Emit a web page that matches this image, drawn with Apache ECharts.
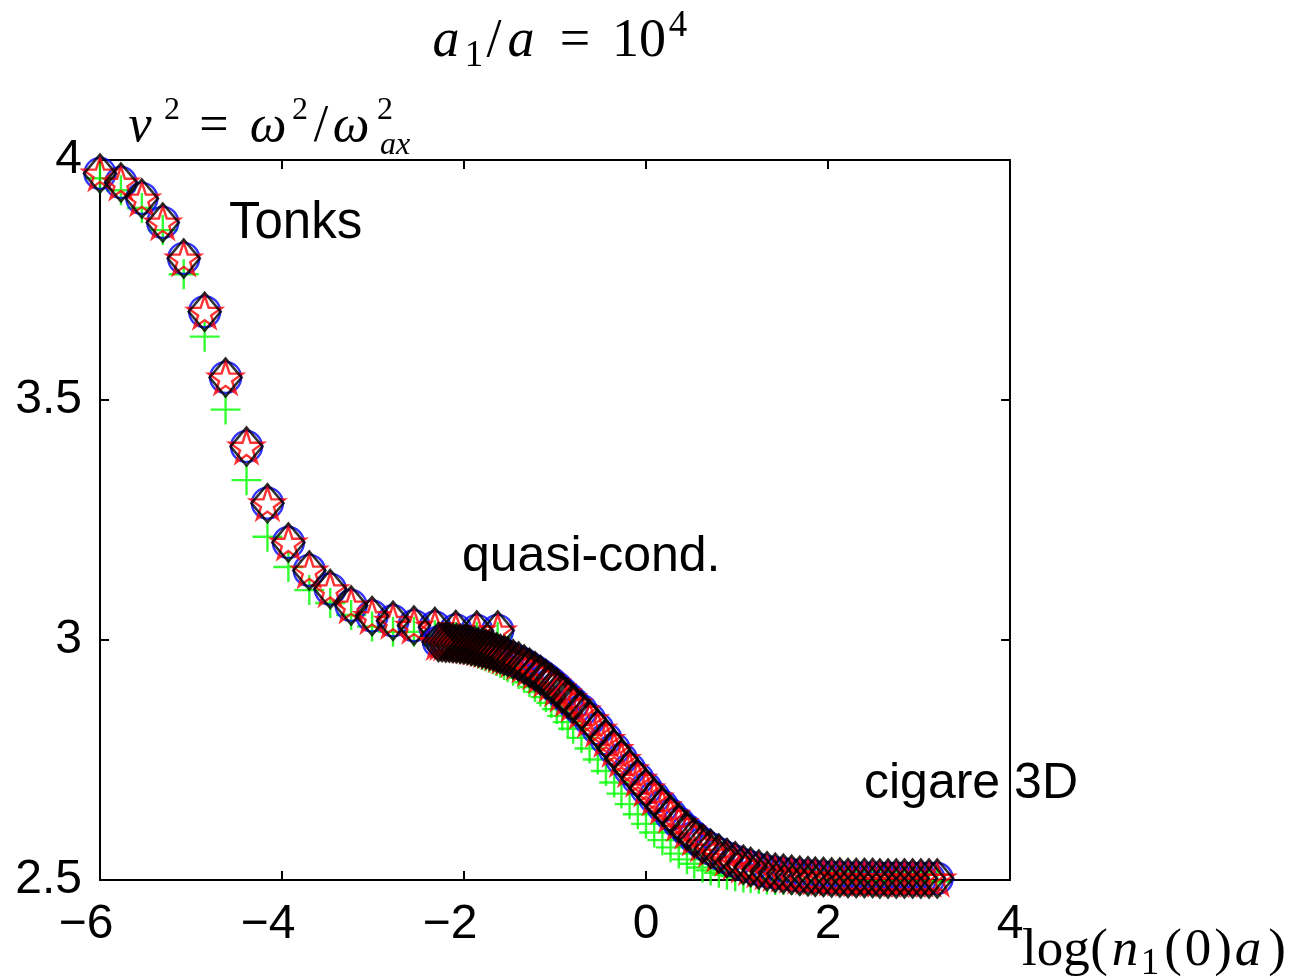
<!DOCTYPE html>
<html><head><meta charset="utf-8">
<script src="https://cdn.jsdelivr.net/npm/echarts@6/dist/echarts.min.js"></script>
<style>html,body{margin:0;padding:0;background:#fff}#c{width:1293px;height:980px}</style>
</head><body><div id="c"></div>
<script>
const xTicks = [-6, -4, -2, 0, 2, 4];
const xTickLabels = ['−6', '−4', '−2', '0', '2', '4'];
const yTicks = [2.5, 3, 3.5, 4];
const yTickLabels = ['2.5', '3', '3.5', '4'];

// sparse branch (Tonks side)
const sparseX = [-6.00, -5.77, -5.54, -5.31, -5.08, -4.85, -4.62, -4.39, -4.16, -3.93,
                 -3.70, -3.47, -3.24, -3.01, -2.78, -2.55, -2.32, -2.09, -1.86, -1.63];
const sparseY = [3.972, 3.953, 3.920, 3.870, 3.795, 3.684, 3.547, 3.403, 3.285, 3.203,
                 3.145, 3.106, 3.072, 3.050, 3.040, 3.030, 3.027, 3.021, 3.020, 3.020];
const sparseYPlus = [3.962, 3.937, 3.900, 3.854, 3.762, 3.632, 3.480, 3.333, 3.215, 3.152,
                     3.104, 3.077, 3.052, 3.028, 3.017, 3.017, 3.010, 3.006, 3.006, 3.006];

// dense branch (quasi-condensate -> 3D cigar)
const denseX = [-2.28, -2.24, -2.20, -2.16, -2.12, -2.08, -2.04, -2.00, -1.96, -1.92,
                -1.88, -1.84, -1.80, -1.76, -1.72, -1.68, -1.64, -1.60, -1.56, -1.52,
                -1.46, -1.40, -1.34, -1.28, -1.22, -1.16, -1.10, -1.04, -0.98, -0.92,
                -0.86, -0.80,
                -0.71, -0.62, -0.53, -0.44, -0.35, -0.27, -0.18, -0.09, 0.00, 0.09,
                0.18, 0.27, 0.36, 0.45, 0.53, 0.62, 0.71, 0.80, 0.89, 0.98,
                1.07, 1.15, 1.24, 1.33, 1.42, 1.51, 1.60, 1.69, 1.78, 1.86,
                1.95, 2.04, 2.13, 2.22, 2.31, 2.40, 2.49, 2.57, 2.66, 2.75,
                2.84, 2.93, 3.02, 3.11, 3.20];
const denseY = [2.996, 2.996, 2.995, 2.995, 2.994, 2.993, 2.992, 2.991, 2.990, 2.988,
                2.987, 2.985, 2.983, 2.981, 2.979, 2.977, 2.974, 2.971, 2.968, 2.965,
                2.960, 2.955, 2.949, 2.942, 2.935, 2.927, 2.919, 2.910, 2.900, 2.889,
                2.879, 2.868,
                2.853, 2.835, 2.815, 2.794, 2.773, 2.752, 2.731, 2.711, 2.691, 2.672,
                2.654, 2.636, 2.619, 2.603, 2.589, 2.576, 2.565, 2.555, 2.546, 2.539,
                2.532, 2.527, 2.522, 2.518, 2.515, 2.513, 2.511, 2.509, 2.508, 2.507,
                2.506, 2.505, 2.505, 2.504, 2.504, 2.504, 2.504, 2.503, 2.503, 2.503,
                2.503, 2.503, 2.503, 2.503, 2.503];
const denseYPlus = [2.990, 2.990, 2.988, 2.988, 2.986, 2.985, 2.983, 2.981, 2.980, 2.977,
                    2.975, 2.972, 2.969, 2.966, 2.963, 2.960, 2.956, 2.952, 2.948, 2.943,
                    2.936, 2.929, 2.921, 2.912, 2.902, 2.892, 2.881, 2.869, 2.856, 2.842,
                    2.829, 2.815,
                    2.796, 2.774, 2.751, 2.727, 2.703, 2.680, 2.658, 2.637, 2.617, 2.599,
                    2.583, 2.568, 2.555, 2.543, 2.534, 2.526, 2.520, 2.515, 2.511, 2.508,
                    2.505, 2.504, 2.502, 2.501, 2.500, 2.500, 2.500, 2.499, 2.499, 2.499,
                    2.498, 2.498, 2.498, 2.497, 2.497, 2.497, 2.497, 2.497, 2.497, 2.497,
                    2.497, 2.497, 2.497, 2.497, 2.497];

const STAR = 'path://M0,-1L0.2245,-0.309L0.951,-0.309L0.363,0.118L0.588,0.809L0,0.382L-0.588,0.809L-0.363,0.118L-0.951,-0.309L-0.2245,-0.309Z';
const PLUS = 'path://M0,-1L0,1M-1,0L1,0';

function pts(xs, ys) { return xs.map((x, i) => [x, ys[i]]); }
function mk(data, symbol, size, color, w) {
  return {
    type: 'scatter', data: data, symbol: symbol, symbolSize: size,
    clip: false, silent: true,
    itemStyle: { color: 'rgba(0,0,0,0)', borderColor: color, borderWidth: w }
  };
}
const series = [];
[[sparseX, sparseY, sparseYPlus], [denseX, denseY, denseYPlus]].forEach(s => {
  series.push(mk(pts(s[0], s[2]), PLUS, 30, '#00ff00', 2.4));
  series.push(mk(pts(s[0], s[1]), 'circle', 31, '#0000ff', 2.4));
  series.push(mk(pts(s[0], s[1]), STAR, [34, 32], '#ff0000', 2.4));
  series.push(mk(pts(s[0], s[1]), 'diamond', [32, 38], '#000000', 2.6));
});

const axisLineStyle = { color: '#000', width: 2 };
const tickStyle = { inside: true, length: 9, lineStyle: { color: '#000', width: 2 } };

function xLab(v) {
  const i = xTicks.findIndex(t => Math.abs(t - v) < 1e-9);
  const s = i >= 0 ? xTickLabels[i] : String(v);
  return s.charAt(0) === '−' ? '{n|' + s + '}{h|−}' : '{n|' + s + '}';
}
function yLab(v) {
  const i = yTicks.findIndex(t => Math.abs(t - v) < 1e-9);
  return i >= 0 ? yTickLabels[i] : String(v);
}

function T(text, x, y, size, italic, fam, align) {
  return {
    type: 'text', x: x, y: y, z: 100, silent: true,
    style: {
      text: text, fill: '#000', fontSize: size,
      fontFamily: fam || '"Liberation Serif", serif',
      fontStyle: italic ? 'italic' : 'normal',
      align: align || 'center', verticalAlign: 'middle'
    }
  };
}
const SANS = '"Liberation Sans", Arial, sans-serif';
const graphics = [
  // title a_1/a = 10^4
  T('a', 446, 42, 54, true), T('1', 474, 56, 37, false), T('/', 494, 42, 54, false),
  T('a', 521, 42, 54, true), T('=', 575, 42, 54, false), T('10', 639, 42, 54, false),
  T('4', 678, 26, 37, false),
  // y label nu^2 = omega^2/omega_ax^2
  T('ν', 140, 127, 52, true), T('2', 172, 111, 32, false), T('=', 214, 127, 52, false),
  T('ω', 268, 127, 52, true), T('2', 300, 111, 32, false), T('/', 321, 127, 52, false),
  T('ω', 351, 127, 52, true), T('2', 385, 111, 32, false), T('ax', 395, 146, 32, true),
  // x label log(n_1(0)a)
  T('log', 1022, 951, 53, false, null, 'left'), T('(', 1099, 951, 53, false), T('n', 1125, 951, 53, true),
  T('1', 1150, 964, 37, false), T('(', 1173, 951, 53, false), T('0', 1198, 951, 53, false),
  T(')', 1223, 951, 53, false), T('a', 1248, 951, 53, true), T(')', 1277, 951, 53, false),
  // annotations
  T('Tonks', 229, 224, 51, false, SANS, 'left'),
  T('quasi-cond.', 462, 557, 50, false, SANS, 'left'),
  T('cigare 3D', 864, 784, 50, false, SANS, 'left')
];

const chart = echarts.init(document.getElementById('c'), null, { renderer: 'canvas' });
chart.setOption({
  animation: false,
  backgroundColor: '#fff',
  grid: { left: 100, right: 283, top: 160, bottom: 100, containLabel: false },
  xAxis: [{
    type: 'value', min: -6, max: 4, interval: 2, position: 'bottom',
    axisLine: { onZero: false, lineStyle: axisLineStyle },
    axisTick: tickStyle, splitLine: { show: false },
    axisLabel: {
      margin: 21, showMinLabel: true, showMaxLabel: true, formatter: xLab,
      color: '#000', fontFamily: SANS, fontSize: 48,
      rich: {
        n: { color: '#000', fontFamily: SANS, fontSize: 48 },
        h: { color: 'rgba(0,0,0,0)', fontFamily: SANS, fontSize: 48 }
      }
    }
  }, {
    type: 'value', min: -6, max: 4, interval: 2, position: 'top',
    axisLine: { onZero: false, lineStyle: axisLineStyle },
    axisTick: tickStyle, splitLine: { show: false }, axisLabel: { show: false }
  }],
  yAxis: [{
    type: 'value', min: 2.5, max: 4, interval: 0.5, position: 'left',
    axisLine: { show: true, onZero: false, lineStyle: axisLineStyle },
    axisTick: { show: true, inside: true, length: 9, lineStyle: { color: '#000', width: 2 } },
    splitLine: { show: false },
    axisLabel: { margin: 18, formatter: yLab, color: '#000', fontFamily: SANS, fontSize: 48,
      showMinLabel: true, showMaxLabel: true }
  }, {
    type: 'value', min: 2.5, max: 4, interval: 0.5, position: 'right',
    axisLine: { show: true, onZero: false, lineStyle: axisLineStyle },
    axisTick: { show: true, inside: true, length: 9, lineStyle: { color: '#000', width: 2 } },
    splitLine: { show: false }, axisLabel: { show: false }
  }],
  series: series,
  graphic: graphics
});
</script></body></html>
